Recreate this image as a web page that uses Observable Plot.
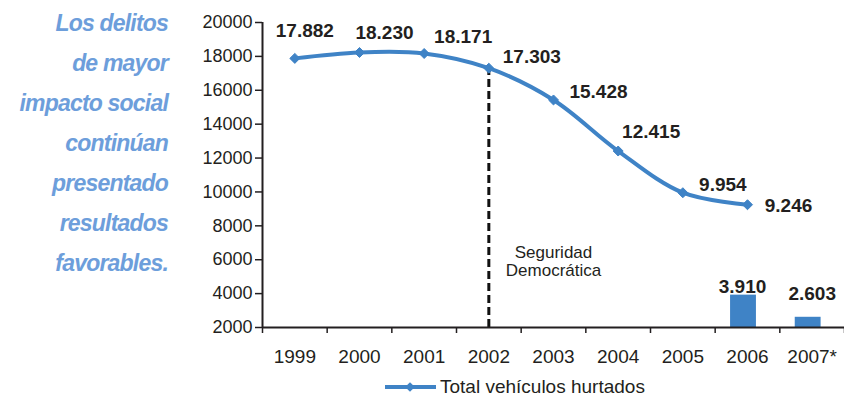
<!DOCTYPE html>
<html>
<head>
<meta charset="utf-8">
<script src="https://cdn.jsdelivr.net/npm/d3@7"></script>
<script src="https://cdn.jsdelivr.net/npm/@observablehq/plot@0.6"></script>
<style>
  html, body { margin: 0; padding: 0; background: #fff; }
  body { font-family: "Liberation Sans", Arial, sans-serif; }
  #wrap { position: relative; width: 844px; height: 401px; overflow: hidden; }
  #side { position: absolute; left: 0; top: 0; width: 168px; text-align: right;
          font-weight: bold; font-style: italic; font-size: 23px; letter-spacing: -0.8px;
          color: #6d9edb; line-height: 40px; padding-top: 3px; }
  #chart { position: absolute; left: 0; top: 0; }
  #legend { position: absolute; left: 384px; top: 376px; display: flex; align-items: center;
            font-size: 19px; color: #231f20; }
</style>
</head>
<body>
<div id="wrap">
  <div id="chart"></div>
  <div id="side"></div>
  <div id="legend"></div>
</div>
<script>
// ---- data ----
const sideLines = ["Los delitos", "de mayor", "impacto social", "continúan", "presentado", "resultados", "favorables."];
const years = [1999, 2000, 2001, 2002, 2003, 2004, 2005, 2006, 2007];
const yearLabels = ["1999", "2000", "2001", "2002", "2003", "2004", "2005", "2006", "2007*"];
const lineYears = [1999, 2000, 2001, 2002, 2003, 2004, 2005, 2006];
const lineValues = [17882, 18230, 18171, 17303, 15428, 12415, 9954, 9246];
const lineLabels = ["17.882", "18.230", "18.171", "17.303", "15.428", "12.415", "9.954", "9.246"];
const barYears = [2006, 2007];
const barValues = [3910, 2603];
const barLabels = ["3.910", "2.603"];
const yTicks = [2000, 4000, 6000, 8000, 10000, 12000, 14000, 16000, 18000, 20000];
const seriesName = "Total vehículos hurtados";
const annotation = "Seguridad\nDemocrática";
const annotationYear = 2002;

// ---- tables ----
const lineData = lineYears.map((y, i) => ({year: y, value: lineValues[i], label: lineLabels[i]}));
const barData = barYears.map((y, i) => ({year: y, value: barValues[i], label: barLabels[i]}));
const bounds = years.map(y => y - 0.5).concat([years[years.length - 1] + 0.5]);

const blue = "#3f83c6";
const ink = "#231f20";

// label offsets (style only)
const lineOff = [[10, -27], [25, -20], [39, -17], [43, -11], [45, -8], [33, -19], [40, -8], [41, 1]];
const barOff = [[-5, -8], [0, -23]];

document.getElementById("side").innerHTML = sideLines.map(s => `<div>${s}</div>`).join("");

const marks = [
  Plot.axisY({ticks: yTicks, tickSize: 7, tickPadding: 3, tickFormat: d => String(d), fontSize: 18, stroke: ink, fill: ink, strokeWidth: 1.5, label: null}),
  Plot.axisX({ticks: bounds, tickSize: 6, tickFormat: () => "", stroke: ink, strokeWidth: 1.5, label: null}),
  Plot.axisX({ticks: years, tickSize: 0, tickPadding: 22, tickFormat: (d) => yearLabels[years.indexOf(d)], fontSize: 19, fill: ink, label: null}),
  Plot.rectY(barData, {x1: d => d.year - 0.2, x2: d => d.year + 0.2, y1: yTicks[0], y2: "value", fill: blue, dx: -4}),
  Plot.ruleX([annotationYear], {y1: yTicks[0], y2: lineValues[lineYears.indexOf(annotationYear)], stroke: "#111", strokeWidth: 3, strokeDasharray: "8,4"}),
  Plot.text([annotation], {x: annotationYear + 1, y: 5925, text: d => d, fontSize: 17, lineHeight: 1.05, fill: ink}),
  Plot.line(lineData, {x: "year", y: "value", curve: "catmull-rom", stroke: blue, strokeWidth: 4}),
  Plot.dot(lineData, {x: "year", y: "value", symbol: "diamond2", r: 4.5, fill: blue, stroke: blue, strokeWidth: 1}),
  Plot.ruleY([yTicks[0]], {stroke: ink, strokeWidth: 2}),
  Plot.ruleX([bounds[0]], {stroke: ink, strokeWidth: 2}),
  ...lineData.map((d, i) => Plot.text([d], {x: "year", y: "value", text: "label", dx: lineOff[i][0], dy: lineOff[i][1], fontSize: 19, fontWeight: "bold", fill: ink})),
  ...barData.map((d, i) => Plot.text([d], {x: "year", y: "value", text: "label", dx: barOff[i][0], dy: barOff[i][1], fontSize: 19, fontWeight: "bold", fill: ink}))
];

const chart = Plot.plot({
  width: 844,
  height: 372,
  marginLeft: 262,
  marginRight: 0,
  marginTop: 22,
  marginBottom: 45,
  style: {fontFamily: "'Liberation Sans', Arial, sans-serif", color: ink, background: "transparent", overflow: "visible"},
  x: {domain: [bounds[0], bounds[bounds.length - 1]], label: null},
  y: {domain: [yTicks[0], yTicks[yTicks.length - 1]], label: null},
  marks
});
document.getElementById("chart").appendChild(chart);

// legend
const sw = d3.create("svg").attr("width", 54).attr("height", 20);
sw.append("line").attr("x1", 1).attr("x2", 52).attr("y1", 10).attr("y2", 10).attr("stroke", blue).attr("stroke-width", 4);
sw.append("path").attr("d", d3.symbol(d3.symbolDiamond2, 60)()).attr("transform", "translate(26,10)").attr("fill", blue);
const lg = document.getElementById("legend");
lg.appendChild(sw.node());
const lt = document.createElement("span");
lt.textContent = seriesName;
lt.style.marginLeft = "2px";
lg.appendChild(lt);
</script>
</body>
</html>
